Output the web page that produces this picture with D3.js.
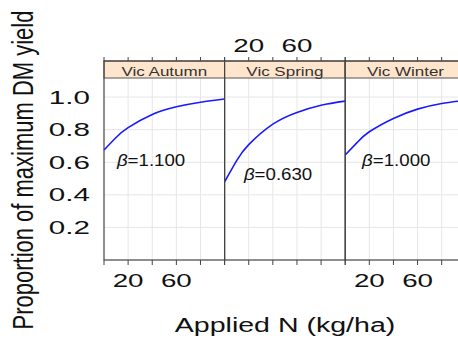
<!DOCTYPE html>
<html>
<head>
<meta charset="utf-8">
<script src="https://cdn.jsdelivr.net/npm/d3@7"></script>
<style>
  body { margin: 0; background: #fff; }
  text { font-family: "Liberation Sans", Arial, sans-serif; fill: #111; }
</style>
</head>
<body>
<svg id="chart"></svg>
<script>
// panel names
const panels = ['Vic Autumn', 'Vic Spring', 'Vic Winter'];
const nRates = [0, 10, 20, 40, 60, 80, 100];
// proportion of max yield per panel
const autumnYield = [0.675, 0.752, 0.812, 0.893, 0.940, 0.968, 0.988];
const springYield = [0.480, 0.610, 0.708, 0.834, 0.906, 0.950, 0.975];
const winterYield = [0.644, 0.722, 0.787, 0.869, 0.926, 0.961, 0.980];
const betaLabels = ['1.100', '0.630', '1.000'];
const betaAt = [[10.7, 0.578], [16, 0.49], [14, 0.578]]; // N, proportion
const yTicks = [0.2, 0.4, 0.6, 0.8, 1.0];
const xTicks = [0, 20, 40, 60, 80, 100];
const xLabelled = [20, 60];

const series = [autumnYield, springYield, winterYield];

const width = 458,
  height = 338;

const svg = d3.select('#chart').attr('width', width).attr('height', height);

const panelLeft = 104,
  panelW = 120.6,
  panelTop = 61,
  stripH = 17,
  panelBottom = 260;

const x = d3.scaleLinear().domain([0, 100]).range([0, panelW]);
const y = d3
  .scaleLinear()
  .domain([0, 1.117])
  .range([panelBottom, panelTop + stripH]);

const line = d3
  .line()
  .curve(d3.curveNatural)
  .x((d) => x(d[0]))
  .y((d) => y(d[1]));

// stretched text helper (the picture is wider than tall)
function label(g, tx, ty, str, size, sx, anchor) {
  return g
    .append('text')
    .attr('transform', `translate(${tx},${ty}) scale(${sx},1)`)
    .attr('text-anchor', anchor)
    .style('font-size', size + 'px')
    .text(str);
}

panels.forEach((name, i) => {
  const g = svg
    .append('g')
    .attr('transform', `translate(${panelLeft + i * panelW},0)`);

  // grid
  g.selectAll('.hgrid')
    .data(yTicks)
    .enter()
    .append('line')
    .attr('x1', 0)
    .attr('x2', panelW)
    .attr('y1', (d) => y(d))
    .attr('y2', (d) => y(d))
    .attr('stroke', '#e6e6e6');

  g.selectAll('.vgrid')
    .data(xTicks.slice(1, -1))
    .enter()
    .append('line')
    .attr('x1', (d) => x(d))
    .attr('x2', (d) => x(d))
    .attr('y1', panelTop + stripH)
    .attr('y2', panelBottom)
    .attr('stroke', '#e6e6e6');

  // curve
  g.append('path')
    .datum(nRates.map((n, k) => [n, series[i][k]]))
    .attr('fill', 'none')
    .attr('stroke', '#1a1aff')
    .attr('stroke-width', 1.6)
    .attr('d', line);

  // beta label
  const bt = g
    .append('text')
    .attr(
      'transform',
      `translate(${x(betaAt[i][0])},${y(betaAt[i][1])}) scale(1.1,1)`
    )
    .style('font-size', '17px');
  bt.append('tspan').style('font-style', 'italic').text('β');
  bt.append('tspan').text('=' + betaLabels[i]);

  // strip
  g.append('rect')
    .attr('x', 0)
    .attr('y', panelTop)
    .attr('width', panelW)
    .attr('height', stripH)
    .attr('fill', '#ffe5cc')
    .attr('stroke', '#555');
  label(g, panelW / 2, panelTop + 14.5, name, 12.5, 1.36, 'middle').style(
    'fill',
    '#333'
  );

  // panel border
  g.append('rect')
    .attr('x', 0)
    .attr('y', panelTop)
    .attr('width', panelW)
    .attr('height', panelBottom - panelTop)
    .attr('fill', 'none')
    .attr('stroke', '#444')
    .attr('stroke-width', 1.2);

  // ticks top and bottom
  g.selectAll('.tt')
    .data(xTicks)
    .enter()
    .append('line')
    .attr('x1', (d) => x(d))
    .attr('x2', (d) => x(d))
    .attr('y1', panelTop - 4)
    .attr('y2', panelTop)
    .attr('stroke', '#444');
  g.selectAll('.bt')
    .data(xTicks)
    .enter()
    .append('line')
    .attr('x1', (d) => x(d))
    .attr('x2', (d) => x(d))
    .attr('y1', panelBottom)
    .attr('y2', panelBottom + 5)
    .attr('stroke', '#444');

  // lattice alternates the tick labels
  const ly = i === 1 ? 51.7 : 286.7;
  xLabelled.forEach((t) => {
    label(g, x(t), ly, String(t), 18.5, 1.5, 'middle');
  });
});

// y tick labels
yTicks.forEach((t) => {
  label(svg, 90, y(t) + 6.6, d3.format('.1f')(t), 18.5, 1.6, 'end');
});

// axis titles
svg
  .append('text')
  .attr('transform', `translate(33,170) scale(1.3,1) rotate(-90)`)
  .attr('text-anchor', 'middle')
  .style('font-size', '22px')
  .text('Proportion of maximum DM yield');

label(svg, 285, 331.5, 'Applied N (kg/ha)', 21, 1.36, 'middle');
</script>
</body>
</html>
